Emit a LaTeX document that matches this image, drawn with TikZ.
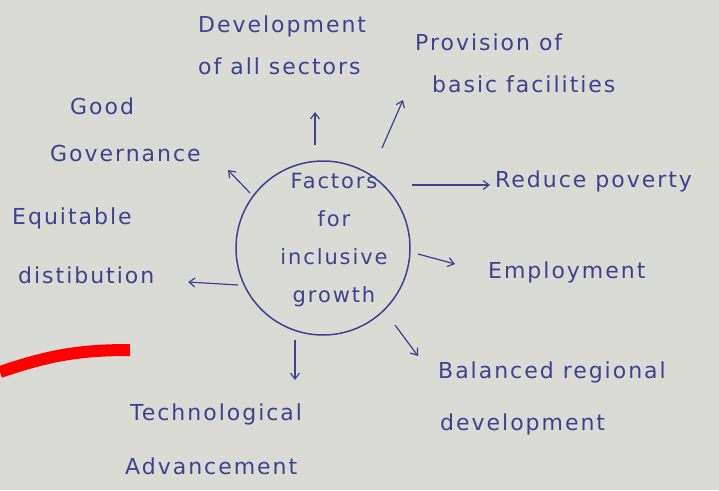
\documentclass[tikz,border=0pt]{standalone}
\usepackage{fontspec}
\setmainfont[LetterSpace=9]{DejaVu Sans}
\usetikzlibrary{arrows.meta}
\definecolor{paper}{HTML}{D9DBD4}
\definecolor{ink}{HTML}{3E4290}
\begin{document}
\begin{tikzpicture}[x=1pt,y=-1pt,
  lbl/.style={text=ink,font=\fontsize{22}{26}\selectfont,anchor=west,inner sep=0pt},
  arr/.style={draw=ink,line width=1.2pt,-{Straight Barb[length=6pt,width=9pt]}},
  blob/.style={draw=ink,line width=1.5pt,circle,minimum size=174pt,inner sep=0pt}]
\fill[paper] (0,0) rectangle (719,490);
\clip (0,0) rectangle (719,490);
\node[blob] (c) at (323,248) {};
\node[text=ink,font=\fontsize{21}{38}\selectfont,align=center] (ct) at (334,240) {Factors\\for\\inclusive\\growth};
% labels
\node[lbl] (dev1) at (198,26) {Development};
\node[lbl] (dev2) at (198,66) {of all sectors};
\node[lbl] (pro1) at (415,42) {Provision of};
\node[lbl] (pro2) at (432,84) {basic facilities};
\node[lbl] (gov1) at (70,106) {Good};
\node[lbl] (gov2) at (50,153) {Governance};
\node[lbl] (eq1) at (12,218) {Equitable};
\node[lbl] (eq2) at (18,275) {distibution};
\node[lbl] (pov) at (495,181) {Reduce poverty};
\node[lbl] (emp) at (488,272) {Employment};
\node[lbl] (bal1) at (438,372) {Balanced regional};
\node[lbl] (bal2) at (440,424) {development};
\node[lbl] (tec1) at (130,414) {Technological};
\node[lbl] (tec2) at (125,466) {Advancement};
% arrow ends
\coordinate (s1) at (315,145); \coordinate (t1) at (315,112);
\coordinate (s2) at (382,148); \coordinate (t2) at (403,100);
\coordinate (s3) at (250,193); \coordinate (t3) at (228,170);
\coordinate (s4) at (412,185); \coordinate (t4) at (490,185);
\coordinate (s5) at (418,254); \coordinate (t5) at (455,264);
\coordinate (s6) at (395,325); \coordinate (t6) at (418,356);
\coordinate (s7) at (295,340); \coordinate (t7) at (295,380);
\coordinate (s8) at (238,285); \coordinate (t8) at (188,282);
\foreach \i in {1,...,8} \draw[arr] (s\i) -- (t\i);
% red stroke
\draw[red,line width=12pt] (0,372) .. controls (50,355) and (80,350) .. (130,350);
\end{tikzpicture}
\end{document}
